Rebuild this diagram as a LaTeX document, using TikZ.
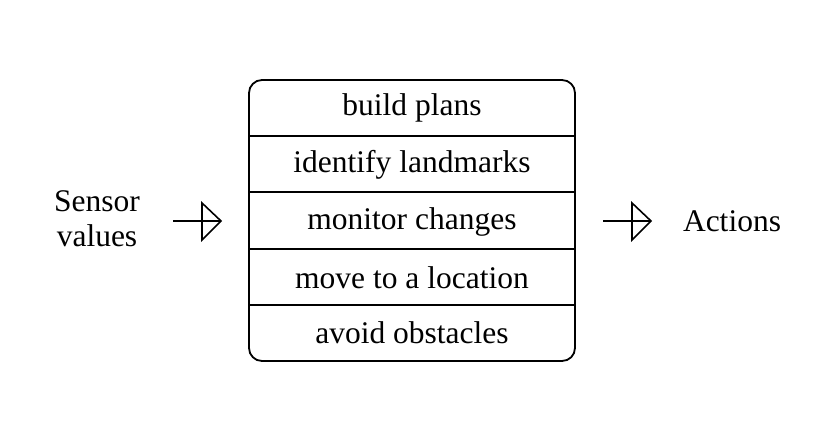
\documentclass[tikz,border=0pt]{standalone}
\usepackage{fontspec}
\setmainfont{Liberation Serif}
\begin{document}
\begin{tikzpicture}[x=1pt,y=-1pt,
  lbl/.style={font=\fontsize{31.5}{36}\selectfont, inner sep=0pt, anchor=center},
  ln/.style={line width=1.8pt, black},
  tri/.style={line width=1.6pt, black, line join=miter}]
\useasboundingbox (0,0) rectangle (813,434);
% main box
\draw[ln, rounded corners=13pt] (249,80) rectangle (575,361);
\coordinate (boxW) at (249,221);
\coordinate (boxE) at (575,221);
\foreach \yy in {136,192,249,305} \draw[line width=1.5pt] (249,\yy) -- (575,\yy);
\node[lbl] (r1) at (412,108) {build plans};
\node[lbl] (r2) at (412,165) {identify landmarks};
\node[lbl] (r3) at (412,222) {monitor changes};
\node[lbl] (r4) at (412,278) {move to a location};
\node[lbl] (r5) at (412,333) {avoid obstacles};
% inputs / outputs
\node[lbl, align=center] (sens) at (97,219) {Sensor\\[-1pt]values};
\node[lbl] (act) at (732,221) {Actions};
% arrows
\coordinate (a1s) at (173,221);
\coordinate (a1t) at (221,221);
\coordinate (a2s) at (603,221);
\coordinate (a2t) at (651,221);
\draw[ln] (a1s) -- (a1t);
\draw[tri] (a1t) -- ++(-19,-18) -- ++(0,37) -- cycle;
\draw[ln] (a2s) -- (a2t);
\draw[tri] (a2t) -- ++(-19,-18) -- ++(0,37) -- cycle;
\end{tikzpicture}
\end{document}
